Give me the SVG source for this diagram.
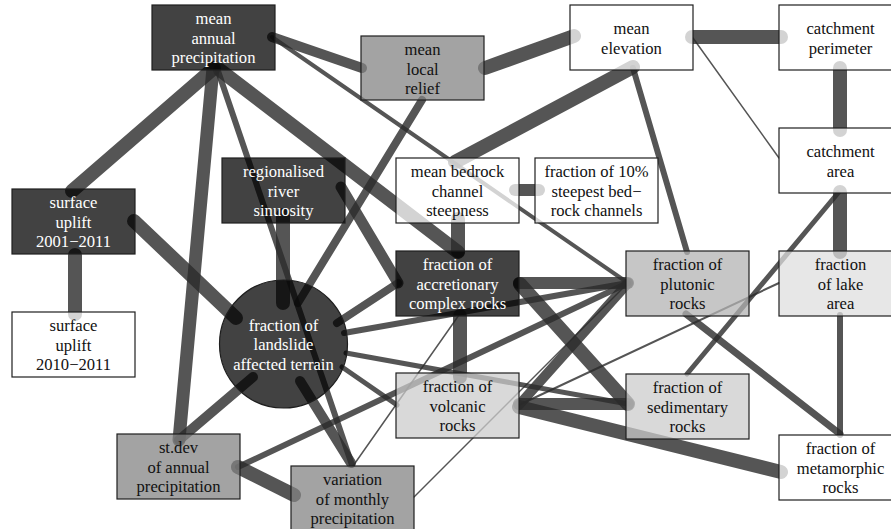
<svg xmlns="http://www.w3.org/2000/svg" width="891" height="529" viewBox="0 0 891 529">
  <style>
    .edges line { stroke: #2b2b2b; stroke-opacity: 0.8; stroke-linecap: round; fill: none; }
    .node rect, .node circle { stroke: #1e1e1e; stroke-width: 1.2; fill-opacity: 0.74; }
    .dk rect, .dk circle { fill: #000000; }
    .md rect { fill: #838383; }
    .pl rect { fill: #b2b2b2; }
    .lt rect { fill: #cccccc; }
    .lk rect { fill: #dedede; }
    .wh rect { fill: #ffffff; }
    .node text { font-family: "Liberation Serif", "DejaVu Serif", serif; font-size: 16.6px; text-anchor: middle; fill: #111; }
    .dk text { fill: #ffffff; }
  </style>
  <rect width="891" height="529" fill="#ffffff"/>

  <!-- connectors sit beneath the translucent node fills -->
  <g id="connectors" class="edges">
    <line x1="214" y1="68" x2="72" y2="191" stroke-width="14"/>
    <line x1="213" y1="68" x2="179" y2="440" stroke-width="13"/>
    <line x1="217" y1="68" x2="352" y2="465" stroke-width="6"/>
    <line x1="220" y1="70" x2="458" y2="252" stroke-width="14"/>
    <line x1="272" y1="37" x2="362" y2="68" stroke-width="10"/>
    <line x1="272" y1="37" x2="628" y2="283" stroke-width="4"/>
    <line x1="485" y1="68" x2="574" y2="36" stroke-width="14"/>
    <line x1="422" y1="100" x2="298" y2="303" stroke-width="8"/>
    <line x1="692" y1="37" x2="781" y2="37" stroke-width="14"/>
    <line x1="693" y1="38" x2="779" y2="158" stroke-width="1.5"/>
    <line x1="633" y1="68" x2="687" y2="252" stroke-width="6"/>
    <line x1="455" y1="162" x2="633" y2="67" stroke-width="14"/>
    <line x1="840" y1="68" x2="840" y2="130" stroke-width="14"/>
    <line x1="840" y1="192" x2="840" y2="252" stroke-width="14"/>
    <line x1="838" y1="193" x2="687" y2="374" stroke-width="5"/>
    <line x1="840" y1="315" x2="840" y2="435" stroke-width="6"/>
    <line x1="779" y1="283" x2="519" y2="405" stroke-width="2"/>
    <line x1="686" y1="314" x2="840" y2="434" stroke-width="7"/>
    <line x1="519" y1="407" x2="781" y2="472" stroke-width="14"/>
    <line x1="519" y1="404" x2="628" y2="404" stroke-width="12"/>
    <line x1="520" y1="284" x2="628" y2="404" stroke-width="14"/>
    <line x1="519" y1="283" x2="628" y2="283" stroke-width="12"/>
    <line x1="519" y1="405" x2="628" y2="283" stroke-width="10"/>
    <line x1="238" y1="467" x2="628" y2="283" stroke-width="6"/>
    <line x1="414" y1="497" x2="628" y2="283" stroke-width="1.5"/>
    <line x1="344" y1="333" x2="628" y2="283" stroke-width="6"/>
    <line x1="346" y1="353" x2="628" y2="404" stroke-width="5"/>
    <line x1="342" y1="367" x2="397" y2="405" stroke-width="5"/>
    <line x1="337" y1="323" x2="398" y2="283" stroke-width="8"/>
    <line x1="341" y1="187" x2="398" y2="283" stroke-width="11"/>
    <line x1="283" y1="215" x2="283" y2="303" stroke-width="14"/>
    <line x1="134" y1="221" x2="236" y2="318" stroke-width="14"/>
    <line x1="75" y1="255" x2="75" y2="314" stroke-width="14"/>
    <line x1="253" y1="377" x2="179" y2="440" stroke-width="10"/>
    <line x1="300" y1="381" x2="351" y2="463" stroke-width="10"/>
    <line x1="238" y1="467" x2="294" y2="495" stroke-width="14"/>
    <line x1="459" y1="315" x2="353" y2="466" stroke-width="1.5"/>
    <line x1="458" y1="219" x2="458" y2="251" stroke-width="14"/>
    <line x1="460" y1="316" x2="460" y2="377" stroke-width="14"/>
    <line x1="515" y1="190" x2="539" y2="190" stroke-width="12"/>
  </g>

  <g id="mean-annual-precipitation" class="node dk">
    <rect x="152" y="5" width="123" height="65"/>
    <text x="213.5" y="24"><tspan x="213.5">mean</tspan><tspan x="213.5" dy="19.5">annual</tspan><tspan x="213.5" dy="19.5">precipitation</tspan></text>
  </g>
  <g id="mean-local-relief" class="node md">
    <rect x="361" y="36" width="123" height="64"/>
    <text x="422.5" y="55"><tspan x="422.5">mean</tspan><tspan x="422.5" dy="19.5">local</tspan><tspan x="422.5" dy="19.5">relief</tspan></text>
  </g>
  <g id="mean-elevation" class="node wh">
    <rect x="570" y="5" width="123" height="65"/>
    <text x="631.5" y="33.5"><tspan x="631.5">mean</tspan><tspan x="631.5" dy="20">elevation</tspan></text>
  </g>
  <g id="catchment-perimeter" class="node wh">
    <rect x="779" y="5" width="123" height="65"/>
    <text x="840.5" y="33.5"><tspan x="840.5">catchment</tspan><tspan x="840.5" dy="20">perimeter</tspan></text>
  </g>
  <g id="catchment-area" class="node wh">
    <rect x="779" y="128" width="123" height="65"/>
    <text x="840.5" y="156.5"><tspan x="840.5">catchment</tspan><tspan x="840.5" dy="20">area</tspan></text>
  </g>
  <g id="surface-uplift-2001-2011" class="node dk">
    <rect x="12" y="189" width="123" height="65"/>
    <text x="73.5" y="208"><tspan x="73.5">surface</tspan><tspan x="73.5" dy="19.5">uplift</tspan><tspan x="73.5" dy="19.5">2001−2011</tspan></text>
  </g>
  <g id="surface-uplift-2010-2011" class="node wh">
    <rect x="12" y="312" width="123" height="65"/>
    <text x="73.5" y="331"><tspan x="73.5">surface</tspan><tspan x="73.5" dy="19.5">uplift</tspan><tspan x="73.5" dy="19.5">2010−2011</tspan></text>
  </g>
  <g id="regionalised-river-sinuosity" class="node dk">
    <rect x="222" y="158" width="123" height="65"/>
    <text x="283.5" y="177"><tspan x="283.5">regionalised</tspan><tspan x="283.5" dy="19.5">river</tspan><tspan x="283.5" dy="19.5">sinuosity</tspan></text>
  </g>
  <g id="mean-bedrock-channel-steepness" class="node wh">
    <rect x="396" y="158" width="123" height="65"/>
    <text x="457.5" y="177"><tspan x="457.5">mean bedrock</tspan><tspan x="457.5" dy="19.5">channel</tspan><tspan x="457.5" dy="19.5">steepness</tspan></text>
  </g>
  <g id="fraction-steepest-channels" class="node wh">
    <rect x="535" y="158" width="123" height="65"/>
    <text x="596.5" y="177"><tspan x="596.5">fraction of 10%</tspan><tspan x="596.5" dy="19.5">steepest bed−</tspan><tspan x="596.5" dy="19.5">rock channels</tspan></text>
  </g>
  <g id="fraction-accretionary" class="node dk">
    <rect x="396" y="251" width="123" height="65"/>
    <text x="457.5" y="270"><tspan x="457.5">fraction of</tspan><tspan x="457.5" dy="19.5">accretionary</tspan><tspan x="457.5" dy="19.5">complex rocks</tspan></text>
  </g>
  <g id="fraction-plutonic" class="node pl">
    <rect x="626" y="251" width="123" height="65"/>
    <text x="687.5" y="270"><tspan x="687.5">fraction of</tspan><tspan x="687.5" dy="19.5">plutonic</tspan><tspan x="687.5" dy="19.5">rocks</tspan></text>
  </g>
  <g id="fraction-lake-area" class="node lk">
    <rect x="779" y="251" width="123" height="65"/>
    <text x="840.5" y="270"><tspan x="840.5">fraction</tspan><tspan x="840.5" dy="19.5">of lake</tspan><tspan x="840.5" dy="19.5">area</tspan></text>
  </g>
  <g id="fraction-landslide" class="node dk">
    <circle cx="283.5" cy="344" r="64"/>
    <text x="283.5" y="330.5"><tspan x="283.5">fraction of</tspan><tspan x="283.5" dy="19.5">landslide</tspan><tspan x="283.5" dy="19.5">affected terrain</tspan></text>
  </g>
  <g id="fraction-volcanic" class="node lt">
    <rect x="396" y="373" width="123" height="65"/>
    <text x="457.5" y="392"><tspan x="457.5">fraction of</tspan><tspan x="457.5" dy="19.5">volcanic</tspan><tspan x="457.5" dy="19.5">rocks</tspan></text>
  </g>
  <g id="fraction-sedimentary" class="node lt">
    <rect x="626" y="374" width="123" height="65"/>
    <text x="687.5" y="393"><tspan x="687.5">fraction of</tspan><tspan x="687.5" dy="19.5">sedimentary</tspan><tspan x="687.5" dy="19.5">rocks</tspan></text>
  </g>
  <g id="fraction-metamorphic" class="node wh">
    <rect x="779" y="435" width="123" height="65"/>
    <text x="840.5" y="454"><tspan x="840.5">fraction of</tspan><tspan x="840.5" dy="19.5">metamorphic</tspan><tspan x="840.5" dy="19.5">rocks</tspan></text>
  </g>
  <g id="stdev-annual-precipitation" class="node md">
    <rect x="117" y="434" width="123" height="65"/>
    <text x="178.5" y="453"><tspan x="178.5">st.dev</tspan><tspan x="178.5" dy="19.5">of annual</tspan><tspan x="178.5" dy="19.5">precipitation</tspan></text>
  </g>
  <g id="variation-monthly-precipitation" class="node md">
    <rect x="291" y="466" width="123" height="65"/>
    <text x="352.5" y="485"><tspan x="352.5">variation</tspan><tspan x="352.5" dy="19.5">of monthly</tspan><tspan x="352.5" dy="19.5">precipitation</tspan></text>
  </g>
</svg>
